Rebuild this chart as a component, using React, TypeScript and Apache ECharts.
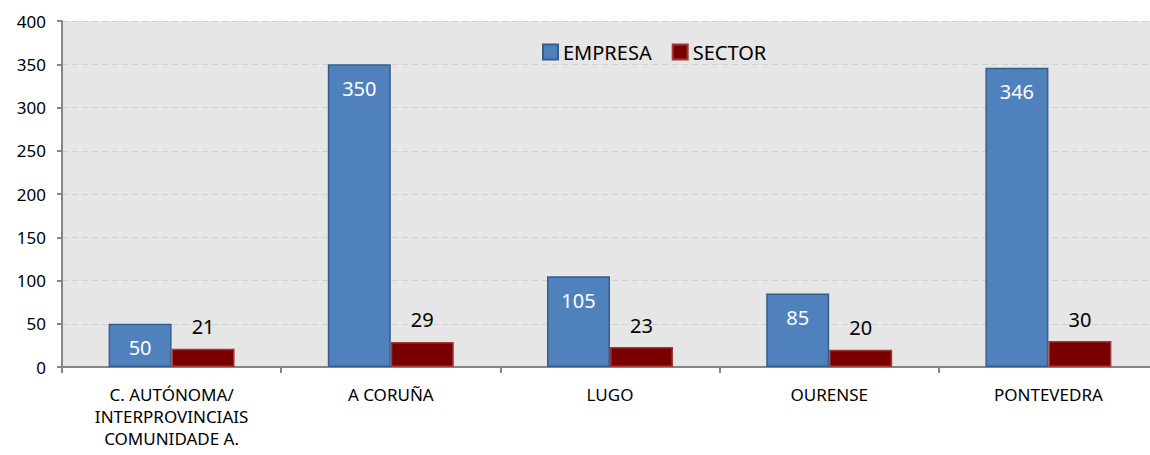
import React, { useEffect, useRef } from "react";
import * as echarts from "echarts";

const categories = [
  "C. AUTÓNOMA/\nINTERPROVINCIAIS\nCOMUNIDADE A.",
  "A CORUÑA",
  "LUGO",
  "OURENSE",
  "PONTEVEDRA",
];
const empresa = [50, 350, 105, 85, 346];
const sector = [21, 29, 23, 20, 30];
const yTicks = { min: 0, max: 400, interval: 50 };

const FONT = '"Noto Sans", sans-serif';

export default function App() {
  const ref = useRef<HTMLDivElement>(null);
  useEffect(() => {
    document.body.style.margin = "0";
    const chart = echarts.init(ref.current!, undefined, { renderer: "svg" });
    chart.setOption({
      animation: false,
      textStyle: { fontFamily: FONT },
      legend: {
        left: 537,
        top: 37,
        itemWidth: 15,
        itemHeight: 15,
        itemGap: 20,
        icon: "rect",
        textStyle: { fontSize: 20, color: "#000", fontFamily: FONT },
        data: ["EMPRESA", "SECTOR"],
      },
      grid: {
        left: 62,
        top: 21,
        width: 1096,
        height: 346,
        outerBoundsMode: "none",
        containLabel: false,
        show: true,
        backgroundColor: "#e6e6e6",
        borderWidth: 0,
      },
      xAxis: {
        type: "category",
        data: categories,
        axisLine: { lineStyle: { color: "#868686", width: 2 } },
        axisTick: { show: true, length: 6, lineStyle: { color: "#868686", width: 2 } },
        axisLabel: {
          fontSize: 17,
          color: "#000",
          margin: 16,
          lineHeight: 22,
          fontFamily: FONT,
        },
      },
      yAxis: {
        type: "value",
        min: yTicks.min,
        max: yTicks.max,
        interval: yTicks.interval,
        axisLine: { show: true, lineStyle: { color: "#868686", width: 2 } },
        axisTick: { show: true, length: 5, lineStyle: { color: "#868686", width: 2 } },
        axisLabel: { fontSize: 17, color: "#000", margin: 16, fontFamily: FONT },
        splitLine: { lineStyle: { color: "#d0d0d0", type: [6, 4], width: 1 } },
      },
      series: [
        {
          name: "EMPRESA",
          type: "bar",
          data: empresa,
          barWidth: 63,
          barGap: "0%",
          itemStyle: { color: "#4f81bd", borderColor: "#385d8a", borderWidth: 1.5 },
          label: {
            show: true,
            position: "insideTop",
            distance: 14,
            fontSize: 20,
            color: "#fff",
            fontFamily: FONT,
          },
        },
        {
          name: "SECTOR",
          type: "bar",
          data: sector,
          barWidth: 63,
          itemStyle: { color: "#7a0000", borderColor: "#9b3a3a", borderWidth: 1.5 },
          label: {
            show: true,
            position: "top",
            distance: 12,
            fontSize: 20,
            color: "#000",
            fontFamily: FONT,
          },
        },
      ],
    });
    return () => chart.dispose();
  }, []);
  return (
    <div
      ref={ref}
      style={{ width: 1150, height: 455, position: "absolute", left: 0, top: 0 }}
    />
  );
}
